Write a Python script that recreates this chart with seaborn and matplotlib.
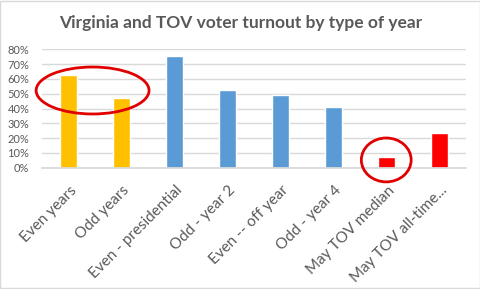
import matplotlib
matplotlib.use("Agg")
import matplotlib.pyplot as plt
import matplotlib.transforms as mtransforms
import seaborn as sns
import pandas as pd
from matplotlib.patches import Ellipse, Rectangle
from matplotlib.ticker import PercentFormatter

categories = ["Even years", "Odd years", "Even - presidential", "Odd - year 2",
              "Even -- off year", "Odd - year 4", "May TOV median", "May TOV all-time..."]
turnout = [62.6, 47.1, 75.5, 52.5, 49.1, 41.0, 7.2, 23.4]
bar_colors = ["#FFC000", "#FFC000", "#5B9BD5", "#5B9BD5", "#5B9BD5", "#5B9BD5", "#FF0000", "#FF0000"]

sns.set_theme(style="white")
plt.rcParams['font.family'] = ['Lato', 'DejaVu Sans']

df = pd.DataFrame({"cat": categories, "val": turnout})

fig = plt.figure(figsize=(4.81, 2.89), dpi=100)
ax = fig.add_axes([0.0867, 0.42, 0.8816, 0.409])
sns.barplot(data=df, x="cat", y="val", hue="cat", palette=bar_colors,
            width=0.32, legend=False, ax=ax, saturation=1)

ax.set_ylim(0, 80)
ax.set_yticks(range(0, 81, 10))
ax.yaxis.set_major_formatter(PercentFormatter(decimals=0))
ax.set_xlim(-0.5, len(categories) - 0.5)
ax.grid(axis="y", color="#D9D9D9", linewidth=1)
ax.set_axisbelow(True)
for s in ["top", "right", "left"]:
    ax.spines[s].set_visible(False)
ax.spines["bottom"].set_color("#D9D9D9")
ax.set_xlabel("")
ax.set_ylabel("")
ax.tick_params(axis="both", length=0, colors="#595959")
ax.tick_params(axis="y", labelsize=8, pad=9)
ax.tick_params(axis="x", pad=12)
ax.set_xticks(range(len(categories)))
ax.set_xticklabels(categories, rotation=45, ha="right", rotation_mode="anchor",
                   fontsize=11, color="#595959")
offset = mtransforms.ScaledTranslation(6 / 100, -4 / 100, fig.dpi_scale_trans)
for lbl in ax.get_xticklabels():
    lbl.set_va("center")
    lbl.set_transform(lbl.get_transform() + offset)

# Annotation ellipses
ax.add_patch(Ellipse((0.46, 52.2), 2.13, 31.8, fill=False, edgecolor="#E00000",
                     linewidth=2, clip_on=False, zorder=5))
ax.add_patch(Ellipse((6.0, 5.2), 0.94, 29.7, fill=False, edgecolor="#E00000",
                     linewidth=2, clip_on=False, zorder=5))

fig.text(0.5, 0.92, "Virginia and TOV voter turnout by type of year", ha="center",
         va="center", fontsize=12.5, fontweight="bold", color="#595959")

fig.patches.append(Rectangle((0.001, 0.002), 0.997, 0.995, transform=fig.transFigure,
                             fill=False, edgecolor="#D9D9D9", linewidth=1))

fig.savefig("out.png", dpi=100)
